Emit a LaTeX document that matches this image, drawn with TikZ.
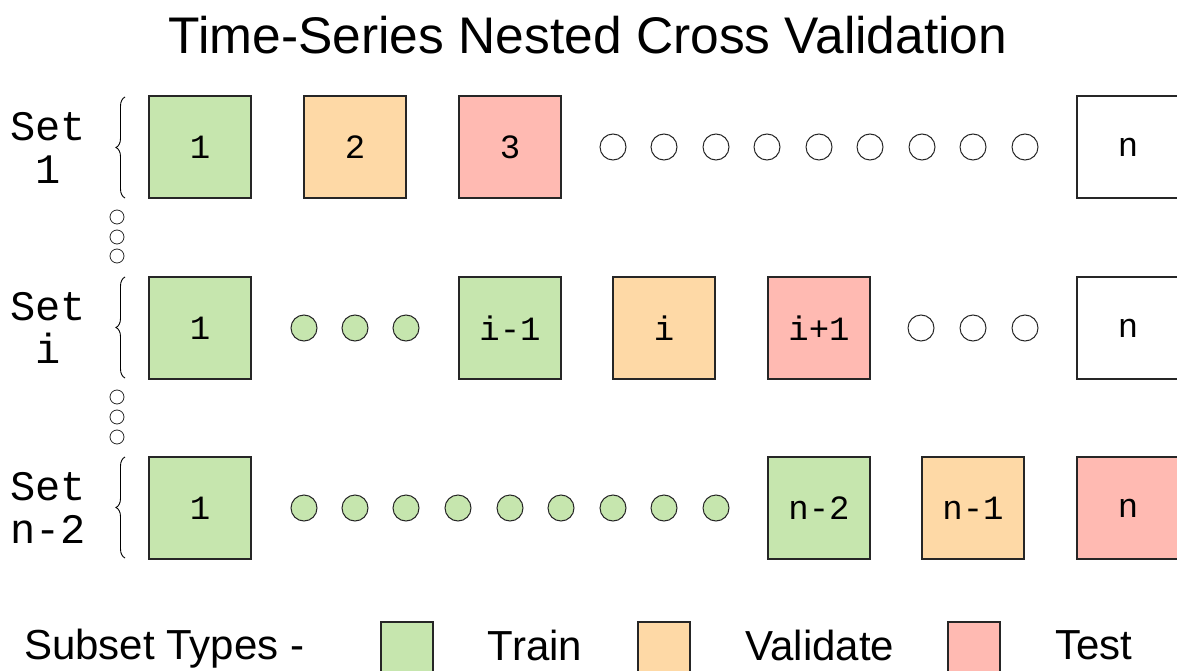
\documentclass[tikz,border=0pt]{standalone}
\usepackage{fontspec}
\setmainfont{Liberation Sans}
\setmonofont{Liberation Mono}
\usetikzlibrary{positioning,decorations.pathreplacing}

\definecolor{trainC}{RGB}{198,230,174}
\definecolor{validC}{RGB}{254,217,166}
\definecolor{testC}{RGB}{255,186,178}

\tikzset{
  block/.style={draw=black!85, line width=1.1pt, minimum size=102pt, inner sep=0pt,
    font=\ttfamily\fontsize{34}{34}\selectfont},
  dot/.style={circle, draw=black!85, line width=1pt, minimum size=26pt, inner sep=0pt},
  vdot/.style={circle, draw=black!85, line width=0.8pt, minimum width=14pt, minimum height=12pt, inner sep=0pt},
  setlabel/.style={align=center, font=\ttfamily\fontsize{42}{43}\selectfont},
  setbrace/.style={decorate, decoration={brace, amplitude=9pt}, line width=0.9pt},
  legbox/.style={draw=black!85, line width=1.1pt, minimum size=52pt, inner sep=0pt},
  legtext/.style={font=\fontsize{42}{42}\selectfont, inner sep=0pt}
}

\begin{document}
\begin{tikzpicture}[x=1pt,y=-1pt]
  \useasboundingbox (0,0) rectangle (1177,671);

  \node[font=\fontsize{51.5}{52}\selectfont] (title) at (588,35) {Time-Series Nested Cross Validation};

  % set 1
  \node[setlabel] (lab1) at (48,148) {Set\\1};
  \coordinate (b1top) at (125,97);
  \coordinate (b1bot) at (125,198);
  \draw[setbrace] (b1bot) -- (b1top);
  \node[block, fill=trainC] (s1a) at (200,147) {1};
  \node[block, fill=validC] (s1b) at (355,147) {2};
  \node[block, fill=testC] (s1c) at (510,147) {3};
  \foreach \x in {613,664,716,767,819,870,922,973,1025}
    \node[dot] at (\x,147) {};
  \node[block, fill=white] (s1n) at (1128,147) {n};

  \foreach \y in {217,237,256}
    \node[vdot] at (117,\y) {};

  % set i
  \node[setlabel] (labi) at (48,328) {Set\\i};
  \coordinate (bitop) at (125,277);
  \coordinate (bibot) at (125,378);
  \draw[setbrace] (bibot) -- (bitop);
  \node[block, fill=trainC] (sia) at (200,328) {1};
  \foreach \x in {304,355,406}
    \node[dot, fill=trainC] at (\x,328) {};
  \node[block, fill=trainC] (sib) at (510,328) {i-1};
  \node[block, fill=validC] (sic) at (664,328) {i};
  \node[block, fill=testC] (sid) at (819,328) {i+1};
  \foreach \x in {921,973,1025}
    \node[dot] at (\x,328) {};
  \node[block, fill=white] (sin) at (1128,328) {n};

  \foreach \y in {397,417,437}
    \node[vdot] at (117,\y) {};

  % set n-2
  \node[setlabel] (labn) at (48,508) {Set\\n-2};
  \coordinate (bntop) at (125,457);
  \coordinate (bnbot) at (125,558);
  \draw[setbrace] (bnbot) -- (bntop);
  \node[block, fill=trainC] (sna) at (200,508) {1};
  \foreach \x in {304,355,406,458,510,561,613,664,716}
    \node[dot, fill=trainC] at (\x,508) {};
  \node[block, fill=trainC] (snb) at (819,508) {n-2};
  \node[block, fill=validC] (snc) at (973,508) {n-1};
  \node[block, fill=testC] (snn) at (1128,508) {n};

  % legend
  \node[legtext, anchor=west] (legend) at (24,649) {Subset Types -};
  \node[legbox, fill=trainC] (ltrain) at (407,648) {};
  \node[legtext] (ttrain) at (535,645) {Train};
  \node[legbox, fill=validC] (lvalid) at (664,648) {};
  \node[legtext] (tvalid) at (820,645) {Validate};
  \node[legbox, fill=testC] (ltest) at (974,648) {};
  \node[legtext] (ttest) at (1094,645) {Test};
\end{tikzpicture}
\end{document}
